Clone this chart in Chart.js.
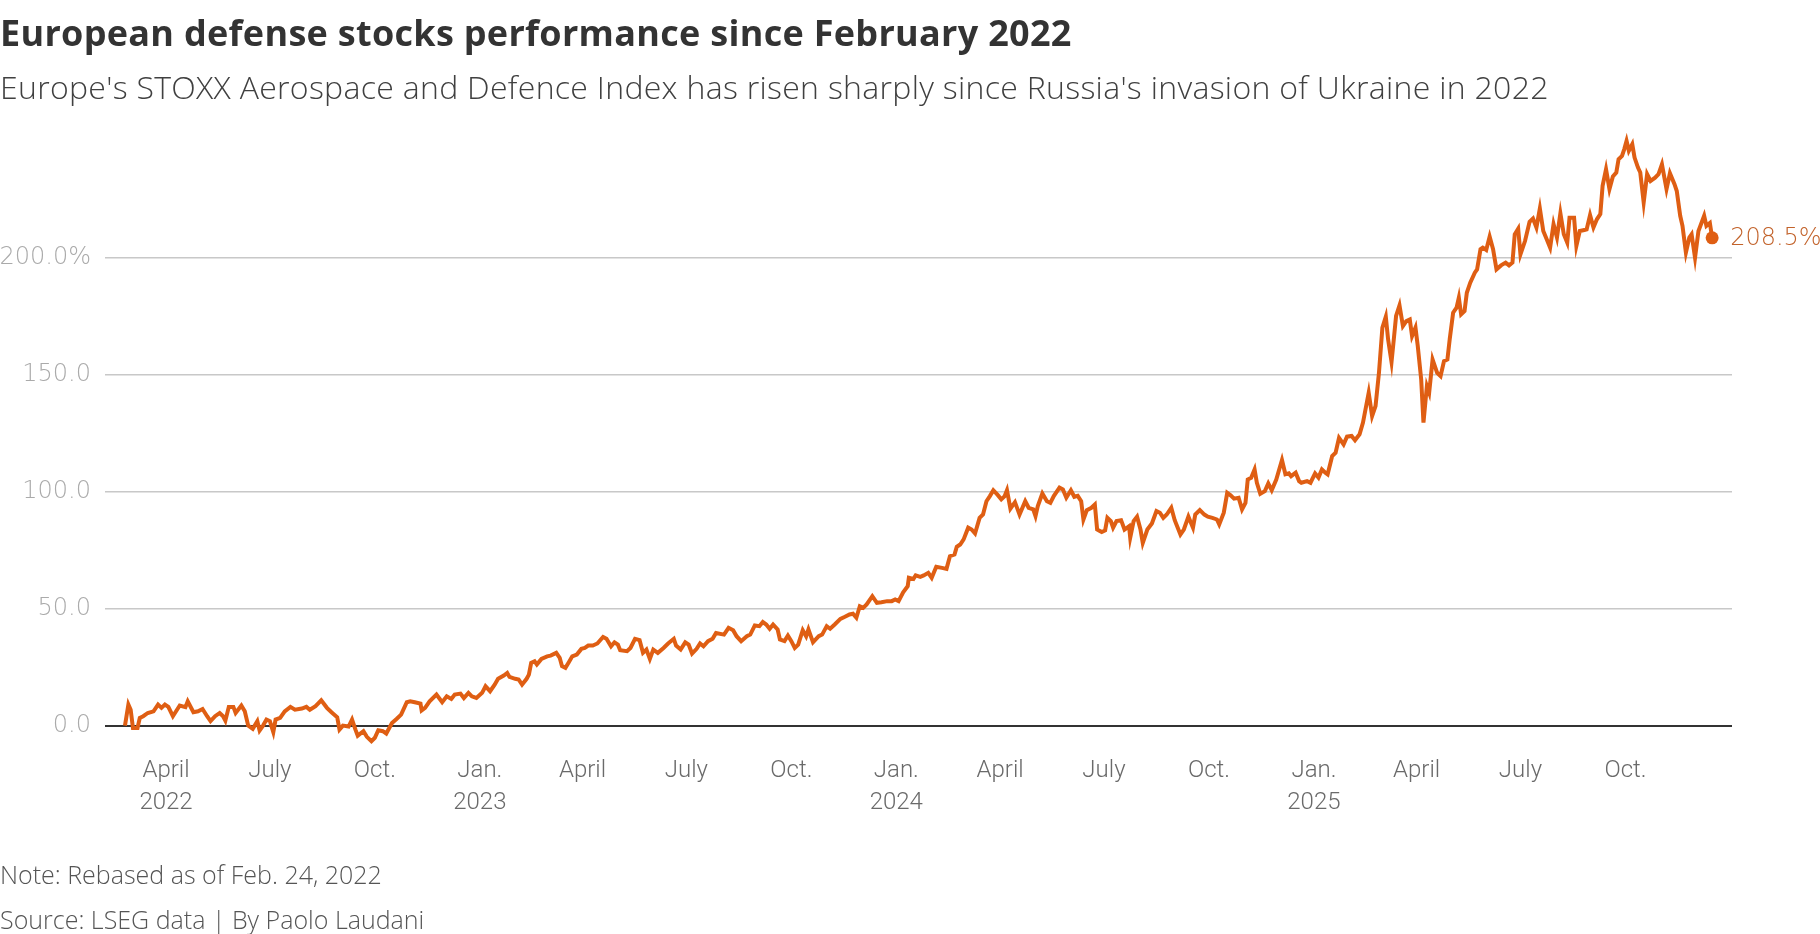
<!DOCTYPE html>
<html>
<head>
<meta charset="utf-8">
<script src="https://cdn.jsdelivr.net/npm/chart.js@4"></script>
<style>
html,body{margin:0;padding:0;background:#fff;width:1820px;height:934px;overflow:hidden;}
#wrap{position:relative;width:1820px;height:934px;}
#chart{position:absolute;left:0;top:0;}
.t{position:absolute;left:0;white-space:nowrap;margin:0;}
#title{top:11px;font:700 36px "Open Sans",sans-serif;color:#333;line-height:44px;letter-spacing:0.3px;}
#sub{top:67px;font:300 32px "Open Sans",sans-serif;color:#404040;line-height:40px;letter-spacing:0.3px;}
#note{top:859px;font:300 25px "Open Sans",sans-serif;color:#555;line-height:30px;}
#src{top:904px;font:300 25px "Open Sans",sans-serif;color:#555;line-height:30px;}
</style>
</head>
<body>
<div id="wrap">
<canvas id="chart" width="1820" height="934"></canvas>
<div class="t" id="title">European defense stocks performance since February 2022</div>
<div class="t" id="sub">Europe's STOXX Aerospace and Defence Index has risen sharply since Russia's invasion of Ukraine in 2022</div>
<div class="t" id="note">Note: Rebased as of Feb. 24, 2022</div>
<div class="t" id="src">Source: LSEG data | By Paolo Laudani</div>
</div>
<script>
// Calendar days since 24 Feb 2022 (rebasing date)
const daysSinceBase = [
0,3,5,7,11,13,16,20,25,29,32,35,38,42,48,53,55,60,64,68,72,75,79,83,86,88,91,95,97,102,105,108,112,116,118,121,124,127,130,132,136,140,145,149,155,159,162,167,172,177,181,186,188,191,196,199,202,204,209,212,216,219,222,226,229,234,238,242,247,250,254,259,260,
263,267,273,278,282,286,289,294,297,301,304,308,313,316,320,324,327,332,335,337,342,345,348,352,354,356,359,361,365,370,373,378,381,383,386,389,392,396,400,403,406,410,414,419,422,426,429,432,434,440,443,447,451,454,457,460,463,467,472,476,481,483,487,491,494,497,501,504,507,511,515,518,
525,529,533,536,540,545,548,552,556,559,562,565,568,572,574,578,581,584,587,590,594,597,599,603,608,611,615,618,622,627,631,635,638,641,644,647,650,655,659,663,668,672,675,678,682,686,687,691,693,697,700,704,707,711,716,720,723,727,729,732,735,739,742,745,749,752,755,758,761,765,768,771,773,776,780,784,
789,792,796,798,800,804,808,811,814,819,822,825,829,832,835,838,840,843,847,850,852,856,859,861,864,866,869,873,876,880,881,884,887,890,892,896,900,904,907,910,913,917,920,925,928,932,936,938,942,946,949,953,957,959,963,966,969,972,976,979,982,984,987,990,992,995,999,1002,1005,1009,1014,1017,1020,1022,1026,1029,
1031,1036,1039,1043,1046,1049,1052,1054,1058,1061,1064,1068,1071,1075,1078,1082,1085,1090,1093,1096,1099,1102,1105,1107,1110,1112,1114,1117,1120,1123,1126,1128,1131,1133,1136,1138,1141,1143,1146,1150,1153,1156,1159,1161,1164,1167,1169,1171,1174,1176,1179,1183,1185,1188,
1190,1193,1196,1199,1202,1206,1210,1213,1216,1218,1221,1223,1227,1231,1234,1237,1240,1243,1246,1249,1252,1255,1258,1261,1264,1266,1270,1272,1275,1279,1281,1284,1287,1290,1293,1295,1298,1301,1304,1307,1309,1312,1314,1316,1318,1321,1323,1326,1328,1331,1334,1337,1341,1344,1347,1351,1354,1358,1360,1363,1365,1368,1371,1373,1376,1379,1384,1386,1389,1391
];
// STOXX Europe Aerospace & Defence, % change since 24 Feb 2022
const pctChange = [
0,9.0,6.8,-1.0,-1.0,3.3,4.0,5.4,6.1,9.0,7.6,9.0,8.0,4.0,8.6,7.9,10.4,5.7,6.1,7.1,4.0,1.9,4.0,5.4,4.0,2.1,8.0,8.0,5.4,8.6,6.1,0,-1.4,1.9,-2.1,0,2.6,1.9,-2.8,2.6,3.3,6.1,8.0,6.8,7.3,8.0,6.8,8.3,10.8,7.6,5.7,3.6,-1.7,0,-0.4,2.6,-1.7,-4.3,-2.4,-4.8,-6.7,-5.2,-2.0,-2.4,-3.4,1.1,2.8,4.7,10.0,10.4,10.0,9.4,6.5,
7.6,10.4,13.3,10.0,12.5,11.4,13.3,13.7,11.8,14.0,12.5,11.8,14.0,16.8,14.7,17.5,20.0,21.4,22.5,20.8,20.0,19.7,17.5,20.0,21.8,26.8,27.5,26.1,28.5,29.6,29.9,31.1,29.0,25.4,24.7,27.1,29.6,30.4,32.8,33.2,34.2,34.2,35.1,37.9,37.1,33.9,35.6,34.6,32.2,31.8,33.2,37.1,36.5,31.1,32.5,28.5,32.5,31.1,33.2,35.1,37.1,34.2,32.5,35.6,34.6,30.8,32.8,35.1,33.9,36.1,37.1,39.6,
38.9,41.8,40.8,38.2,36.1,38.2,38.9,42.8,42.5,44.3,43.2,41.4,43.2,41.1,36.8,36.1,38.5,36.1,33.2,34.6,40.8,38.2,41.1,35.6,38.2,38.9,42.5,41.4,43.2,45.6,46.5,47.5,47.8,46.1,51.0,50.3,51.8,55.3,52.5,52.7,53.2,53.2,53.9,53.2,57.0,59.6,63.2,62.7,64.2,63.6,64.2,65.3,63.2,67.9,67.4,67.0,72.4,73.1,76.4,77.4,79.6,84.6,83.8,82.1,88.8,90.2,95.9,98.1,100.6,98.5,96.7,98.1,100.6,92.7,95.5,90.2,
95.9,93.1,92.4,89.5,93.8,99.2,95.9,95.2,98.1,101.7,100.9,97.4,100.6,97.8,98.2,95.9,88.1,92.1,93.1,94.5,83.8,82.7,83.4,88.8,87.4,84.6,87.4,87.8,83.8,85.2,80.3,87.4,89.3,83.8,78.1,83.8,86.4,91.7,91.0,88.8,90.2,93.1,87.8,81.7,83.8,89.3,84.6,90.2,92.1,90.2,89.3,88.8,88.1,86.0,91.0,99.5,98.4,97.0,97.4,92.4,95.2,105.2,105.9,109.5,103.8,99.1,100.2,103.5,100.6,105.2,113.5,107.4,107.8,106.6,108.1,104.5,
103.8,104.5,103.8,107.8,106.0,109.5,108.1,107.4,115.2,116.6,123.0,120.2,123.5,123.8,122.0,124.5,129.5,142.3,132.3,136.6,150.8,170.1,174.8,165.1,155.4,165.1,175.1,179.6,170.8,172.9,173.6,166.5,170.1,162.2,148.0,129.5,145.1,142.3,156.5,150.8,149.4,155.8,156.5,165.1,176.5,178.6,182.9,175.8,177.2,185.0,189.3,193.6,195.0,203.6,
204.3,203.3,209.0,203.6,195.0,196.7,197.9,196.7,197.9,210.0,212.4,201.4,207.1,215.3,216.7,212.9,221.0,211.4,207.9,204.3,214.3,208.6,219.0,210.0,206.4,217.1,217.1,205.0,211.4,211.8,212.1,218.2,212.9,216.4,218.6,230.7,237.8,229.3,234.7,236.4,242.1,243.5,246.4,249.9,245.7,248.5,242.8,238.5,236.4,223.6,235.7,232.8,234.2,235.7,239.9,229.3,236.1,231.4,228.5,217.9,213.6,202.2,208.6,210.0,200.0,211.4,217.9,213.6,214.8,208.5
];
const tickDates = ['2022-04-01','2022-07-01','2022-10-01','2023-01-01','2023-04-01','2023-07-01','2023-10-01','2024-01-01','2024-04-01','2024-07-01','2024-10-01','2025-01-01','2025-04-01','2025-07-01','2025-10-01'];
const tickLabels = [['April','2022'],'July','Oct.',['Jan.','2023'],'April','July','Oct.',['Jan.','2024'],'April','July','Oct.',['Jan.','2025'],'April','July','Oct.'];
const yTickValues = [0,50,100,150,200];

const BASE = Date.UTC(2022,1,24);
function dayOf(s){const p=s.split('-').map(Number);return Math.round((Date.UTC(p[0],p[1]-1,p[2])-BASE)/864e5);}

const LINE = '#df5e13';
const last = pctChange.length - 1;
const NUMFONT = '"DejaVu Sans"';

const endLabel = {
  id:'endLabel',
  afterDatasetsDraw(chart){
    const pt = chart.getDatasetMeta(0).data[last];
    const c = chart.ctx;
    c.save();
    c.font = '200 24px ' + NUMFONT + ', sans-serif';
    c.fillStyle = '#c2622a';
    c.textAlign = 'left';
    c.textBaseline = 'middle';
    c.fillText(pctChange[last].toFixed(1) + '%', pt.x + 18, pt.y + 1);
    c.restore();
  }
};

new Chart(document.getElementById('chart'), {
  type:'line',
  data:{datasets:[{
    data: daysSinceBase.map((d,i)=>({x:d,y:pctChange[i]})),
    borderColor: LINE,
    borderWidth: 4,
    backgroundColor: LINE,
    pointRadius: ctx => ctx.dataIndex === last ? 6.5 : 0,
    pointBackgroundColor: LINE,
    pointBorderWidth: 0,
    pointHoverRadius: 0,
    tension: 0,
    fill: false
  }]},
  options:{
    responsive:false,
    animation:false,
    devicePixelRatio:1,
    layout:{padding:{top:129,right:88,bottom:0,left:0}},
    plugins:{legend:{display:false},tooltip:{enabled:false}},
    scales:{
      x:{
        type:'linear',
        min:-17.5, max:1408.4,
        grid:{display:false,drawTicks:false},
        border:{display:false},
        afterBuildTicks: s => { s.ticks = tickDates.map(d=>({value:dayOf(d)})); },
        afterFit: s => { s.height = 185; },
        ticks:{
          autoSkip:false, maxRotation:0, padding:6,
          color:'#6a6a6a',
          font:{family:'Roboto', size:24, weight:'300', lineHeight:1.32},
          callback:(v,i)=>tickLabels[i]
        }
      },
      y:{
        min:-10, max:255,
        grid:{
          drawTicks:false,
          color: ctx => (ctx.tick && ctx.tick.value === 0) ? '#333' : '#c8c8c8',
          lineWidth: ctx => (ctx.tick && ctx.tick.value === 0) ? 2 : 1.5
        },
        border:{display:false},
        afterBuildTicks: s => { s.ticks = yTickValues.map(v=>({value:v})); },
        afterFit: s => { s.width = 105; },
        ticks:{
          padding:14,
          color:'#aaa',
          font:{family:'DejaVu Sans', size:24, weight:'200'},
          callback: v => v === 200 ? '200.0%' : v.toFixed(1)
        }
      }
    }
  },
  plugins:[endLabel]
});
</script>
</body>
</html>
